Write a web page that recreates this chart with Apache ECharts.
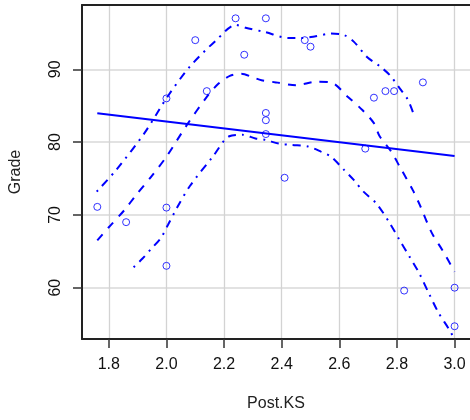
<!DOCTYPE html>
<html><head><meta charset="utf-8">
<script src="https://cdn.jsdelivr.net/npm/echarts@6/dist/echarts.min.js"></script>
<style>html,body{margin:0;padding:0;background:#fff}#c{width:470px;height:420px}</style>
</head><body><div id="c"></div>
<script>
const xTicks = [1.8, 2.0, 2.2, 2.4, 2.6, 2.8, 3.0];
const yTicks = [60, 70, 80, 90];
const ptX = [1.76, 1.86, 2.0, 2.0, 2.0, 2.10, 2.14, 2.24, 2.27, 2.345, 2.345, 2.345, 2.345, 2.41, 2.48, 2.50, 2.69, 2.72, 2.76, 2.79, 2.89, 2.825, 3.0, 3.0];
const ptY = [71.1, 69.0, 86.0, 71.0, 63.0, 94.0, 87.0, 97.0, 92.0, 97.0, 84.0, 83.0, 81.1, 75.1, 94.0, 93.1, 79.1, 86.1, 87.0, 87.0, 88.2, 59.6, 60.0, 54.7];
const regX = [1.76, 3.0];
const regY = [83.95, 78.1];
const fitX = [1.76, 1.80, 1.855, 1.894, 1.95, 2.00, 2.07, 2.14, 2.18, 2.22, 2.26, 2.30, 2.33, 2.38, 2.45, 2.52, 2.57, 2.63, 2.68, 2.72, 2.74, 2.78, 2.81, 2.855, 2.88, 2.92, 2.96, 3.00];
const fitY = [66.5, 68.3, 70.7, 72.7, 75.4, 78.0, 82.3, 86.2, 88.0, 89.1, 89.4, 88.9, 88.5, 88.2, 87.8, 88.3, 88.2, 86.2, 84.4, 82.6, 80.8, 78.7, 76.6, 73.4, 71.3, 67.6, 65.0, 62.2];
const upX = [1.758, 1.826, 1.923, 2.003, 2.082, 2.173, 2.241, 2.275, 2.343, 2.423, 2.468, 2.514, 2.571, 2.616, 2.65, 2.696, 2.741, 2.775, 2.809, 2.838, 2.86];
const upY = [73.2, 76.2, 81.2, 86.2, 90.4, 94.0, 96.1, 95.7, 95.1, 94.3, 94.3, 94.5, 94.9, 94.7, 93.8, 91.7, 90.4, 89.2, 87.4, 85.8, 83.6];
const loX = [1.886, 1.917, 1.946, 1.98, 2.005, 2.037, 2.082, 2.161, 2.218, 2.264, 2.309, 2.343, 2.389, 2.434, 2.491, 2.536, 2.571, 2.616, 2.65, 2.684, 2.73, 2.775, 2.809, 2.843, 2.877, 2.911, 2.945, 2.979, 3.0];
const loY = [62.8, 64.0, 65.3, 66.8, 68.6, 71.0, 74.0, 78.0, 80.8, 81.0, 80.5, 80.3, 79.8, 79.6, 79.4, 78.7, 78.0, 76.2, 74.8, 73.2, 71.5, 68.85, 66.55, 64.3, 62.0, 59.2, 56.5, 54.4, 52.9];

const zip = (a, b) => a.map((v, i) => [v, b[i]]);
const FONT = 'Liberation Sans';
const XMIN = 1.7069, XMAX = 3.0535, YMIN = 52.95, YMAX = 98.83;
const chart = echarts.init(document.getElementById('c'), null, {renderer: 'canvas'});
const blue = '#0000ff';
chart.setOption({
  animation: false,
  backgroundColor: '#fff',
  grid: {left: 80, top: 5, right: -5, bottom: 81, containLabel: false},
  xAxis: [{
    type: 'value', min: XMIN, max: XMAX, position: 'bottom',
    name: 'Post.KS', nameLocation: 'middle', nameGap: 57,
    nameTextStyle: {fontFamily: FONT, fontSize: 16, color: '#222'},
    axisLine: {show: true, onZero: false, lineStyle: {color: '#222', width: 2}},
    axisTick: {show: true, length: 9, inside: false, customValues: xTicks, lineStyle: {color: '#333', width: 1.5}},
    axisLabel: {customValues: xTicks, margin: 18, fontFamily: FONT, fontSize: 16, color: '#111', formatter: v => v.toFixed(1)},
    splitLine: {show: true, lineStyle: {color: '#d3d3d3', width: 1.3}}
  }, {
    type: 'value', min: XMIN, max: XMAX, position: 'top',
    axisLine: {show: true, onZero: false, lineStyle: {color: '#222', width: 2}},
    axisTick: {show: false}, axisLabel: {show: false}, splitLine: {show: false}
  }],
  yAxis: {
    type: 'value', min: YMIN, max: YMAX,
    name: 'Grade', nameLocation: 'middle', nameGap: 58, nameRotate: 90,
    nameTextStyle: {fontFamily: FONT, fontSize: 16, color: '#222'},
    axisLine: {show: true, onZero: false, lineStyle: {color: '#222', width: 2}},
    axisTick: {show: true, length: 9, customValues: yTicks, lineStyle: {color: '#333', width: 1.5}},
    axisLabel: {customValues: yTicks, rotate: 90, margin: 18, fontFamily: FONT, fontSize: 16, color: '#111'},
    splitLine: {show: true, lineStyle: {color: '#e2e2e2', width: 2}}
  },
  series: [
    {type: 'scatter', data: zip(ptX, ptY), symbol: 'circle', symbolSize: 7,
     itemStyle: {color: 'rgba(0,0,0,0)', borderColor: blue, borderWidth: 1}, z: 5},
    {type: 'line', data: zip(regX, regY), showSymbol: false, lineStyle: {color: blue, width: 2}, z: 4},
    {type: 'line', data: zip(fitX, fitY), showSymbol: false, smooth: 0.3, lineStyle: {color: blue, width: 2, type: [8, 8]}, z: 4},
    {type: 'line', data: zip(upX, upY), showSymbol: false, smooth: 0.3, lineStyle: {color: blue, width: 2, type: [2, 6, 8, 6]}, z: 4},
    {type: 'line', data: zip(loX, loY), showSymbol: false, smooth: 0.3, lineStyle: {color: blue, width: 2, type: [2, 6, 8, 6]}, z: 4}
  ]
});
</script></body></html>
